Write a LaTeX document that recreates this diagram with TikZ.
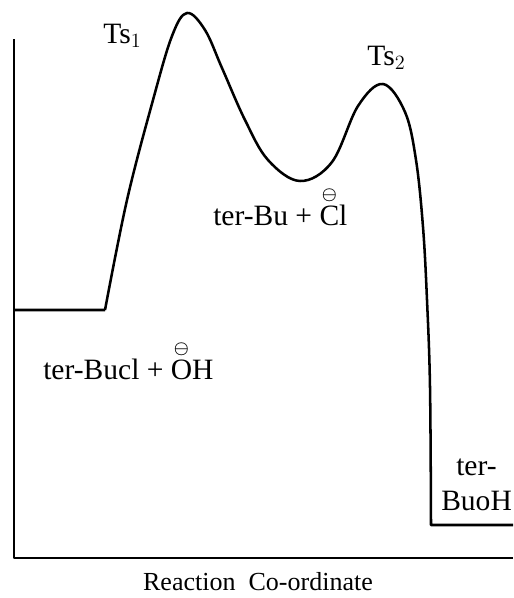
\documentclass[tikz,border=0pt]{standalone}
\usepackage{amsmath}
\usepackage{fontspec}
\setmainfont{Liberation Serif}
\usepackage{tikz}
\usetikzlibrary{positioning}

\newcommand{\charged}[1]{\ensuremath{\overset{\text{\fontsize{12.5}{12.5}\selectfont$\boldsymbol{\ominus}$}}{\text{#1}}}}

\begin{document}
\begin{tikzpicture}[
  x=0.025cm, y=-0.025cm,
  lbl/.style={inner sep=0pt, font=\fontsize{21}{25}\selectfont},
  curve/.style={line width=1.8pt, line join=round}
]
\useasboundingbox (0,0) rectangle (513,598);
% axes
\draw[curve] (14,39) -- (14,558) -- (513,558);
% energy profile
\draw[curve] (14,310) -- (105,310)
  plot[smooth, tension=0.6] coordinates {(105,310) (127,200) (153,100) (172,36) (187,13) (205,30) (222,68) (245,120) (268,160) (300,181) (332,162) (358,106) (383,84) (405,112) (416,160) (423,227) (427,300) (430,387) (431,525)}
  -- (513,525);
% labels
\node[lbl, anchor=base west] (ts1) at (103,43) {Ts$_1$};
\node[lbl, anchor=base west] (ts2) at (367,65) {Ts$_2$};
\node[lbl, anchor=base west] (inter) at (213,225) {ter-Bu + \charged{C}l};
\node[lbl, anchor=base west] (react) at (43,379) {ter-Bucl + \charged{O}H};
\node[lbl, anchor=base west] (prod1) at (456,475) {ter-};
\node[lbl, anchor=base west] (prod2) at (441,510) {BuoH};
\node[lbl, anchor=base, font=\fontsize{18.5}{22}\selectfont] (xlab) at (258,590) {Reaction\ \ Co-ordinate};
\end{tikzpicture}
\end{document}
